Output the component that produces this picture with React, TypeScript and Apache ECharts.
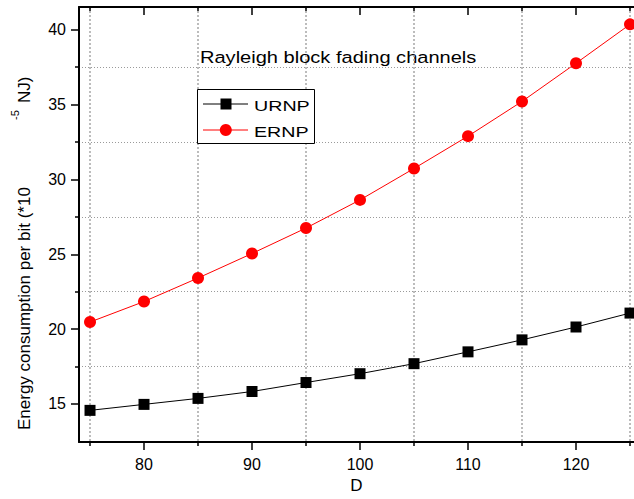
import React, { useEffect, useRef } from "react";
import * as echarts from "echarts";

// Distance D
const D = [75, 80, 85, 90, 95, 100, 105, 110, 115, 120, 125];
// Energy consumption per bit (*10^-5 NJ)
const URNP = [14.57, 14.97, 15.37, 15.83, 16.43, 17.02, 17.69, 18.48, 19.28, 20.14, 21.07];
const ERNP = [20.47, 21.84, 23.41, 25.05, 26.75, 28.63, 30.73, 32.89, 35.21, 37.76, 40.36];

const X_MAJOR = [80, 90, 100, 110, 120];
const X_MINOR = [75, 85, 95, 105, 115, 125];
const Y_MAJOR = [15, 20, 25, 30, 35, 40];
const Y_MINOR = [17.5, 22.5, 27.5, 32.5, 37.5];

const SERIES_NAMES = ["URNP", "ERNP"];
const SERIES_COLORS = ["#000000", "#ff0000"];

const FONT = "'Liberation Sans', Arial, sans-serif";

const pairs = (ys: number[]) => D.map((d, i) => [d, ys[i]]);

// dotted grid styles
const hGridLine = () => ({
  show: true,
  showMinLine: true,
  showMaxLine: true,
  lineStyle: { color: "#9a9a9a", type: [1, 2], width: 1 },
});
const vGridLine = () => ({
  show: true,
  showMinLine: true,
  showMaxLine: true,
  lineStyle: { color: "#a6a6a6", type: [2, 2], width: 1.5 },
});

export default function App() {
  const ref = useRef<HTMLDivElement>(null);

  useEffect(() => {
    if (!ref.current) return;
    const chart = echarts.init(ref.current, null, { renderer: "svg" });

    const black = "#000";
    const baseX = { type: "value", min: 73.98, max: 125.37, gridIndex: 0 };
    const baseY = { type: "value", min: 12.45, max: 41.52, gridIndex: 0 };

    // legend box drawn as graphic so the stretched lettering can be reproduced
    const legendX = 197;
    const legendY = 89;
    const rowY = [104, 130];
    const legendGraphic: any[] = [
      {
        type: "rect",
        shape: { x: legendX + 0.5, y: legendY + 0.5, width: 117, height: 54 },
        style: { fill: "#fff", stroke: black, lineWidth: 1 },
        z: 10,
      },
    ];
    SERIES_NAMES.forEach((name, i) => {
      const y = rowY[i];
      const color = SERIES_COLORS[i];
      legendGraphic.push({
        type: "line",
        shape: { x1: 203, y1: y, x2: 248, y2: y },
        style: { stroke: color, lineWidth: 1 },
        z: 11,
      });
      legendGraphic.push(
        i === 0
          ? { type: "rect", shape: { x: 220.5, y: y - 5.5, width: 11, height: 11 }, style: { fill: color }, z: 12 }
          : { type: "circle", shape: { cx: 225.8, cy: y, r: 6 }, style: { fill: color }, z: 12 }
      );
      legendGraphic.push({
        type: "text",
        x: 254,
        y: y + 2,
        scaleX: 1.27,
        style: {
          text: name,
          fontSize: 15.5,
          fontFamily: FONT,
          fill: black,
          align: "left",
          verticalAlign: "middle",
        },
        z: 12,
      });
    });

    chart.setOption({
      animation: false,
      textStyle: { fontFamily: FONT },
      grid: { left: 79, right: 0, top: 7, bottom: 53, containLabel: false },
      xAxis: [
        {
          ...baseX,
          position: "bottom",
          axisLine: { show: true, onZero: false, lineStyle: { color: black, width: 2 } },
          axisTick: { show: true, customValues: X_MINOR, length: 4, lineStyle: { color: black, width: 1.5 } },
          axisLabel: { show: false },
          splitLine: vGridLine(),
        },
        {
          ...baseX,
          position: "bottom",
          name: "D",
          nameLocation: "middle",
          nameGap: 32,
          nameTextStyle: { fontSize: 17, color: black, fontFamily: FONT },
          axisLine: { show: false, onZero: false },
          axisTick: { show: true, customValues: X_MAJOR, length: 8, lineStyle: { color: black, width: 1.5 } },
          axisLabel: { show: true, customValues: X_MAJOR, fontSize: 16, color: black, margin: 14, fontFamily: FONT },
          splitLine: { show: false },
        },
        {
          ...baseX,
          position: "top",
          axisLine: { show: true, onZero: false, lineStyle: { color: black, width: 2 } },
          axisTick: { show: true, inside: true, customValues: X_MINOR, length: 4, lineStyle: { color: black, width: 1.5 } },
          axisLabel: { show: false },
          splitLine: { show: false },
        },
        {
          ...baseX,
          position: "top",
          axisLine: { show: false, onZero: false },
          axisTick: { show: true, inside: true, customValues: X_MAJOR, length: 8, lineStyle: { color: black, width: 1.5 } },
          axisLabel: { show: false },
          splitLine: { show: false },
        },
      ],
      yAxis: [
        {
          ...baseY,
          position: "left",
          axisLine: { show: true, onZero: false, lineStyle: { color: black, width: 2 } },
          axisTick: { show: true, customValues: Y_MINOR, length: 4, lineStyle: { color: black, width: 1.5 } },
          axisLabel: { show: false },
          splitLine: hGridLine(),
        },
        {
          ...baseY,
          position: "left",
          axisLine: { show: false, onZero: false },
          axisTick: { show: true, customValues: Y_MAJOR, length: 8, lineStyle: { color: black, width: 1.5 } },
          axisLabel: { show: true, customValues: Y_MAJOR, fontSize: 16, color: black, margin: 13, fontFamily: FONT },
          splitLine: { show: false },
        },
      ],
      graphic: [
        {
          type: "text",
          x: 200,
          y: 57.5,
          scaleX: 1.18,
          style: {
            text: "Rayleigh block fading channels",
            fontSize: 17,
            fontFamily: FONT,
            fill: black,
            align: "left",
            verticalAlign: "middle",
          },
        },
        {
          type: "text",
          x: 24,
          y: 430,
          rotation: Math.PI / 2,
          style: {
            text: "Energy consumption per bit (*10",
            fontSize: 17,
            fontFamily: FONT,
            fill: black,
            align: "left",
            verticalAlign: "middle",
          },
        },
        {
          type: "text",
          x: 15,
          y: 115,
          rotation: Math.PI / 2,
          style: {
            text: "-5",
            fontSize: 11,
            fontFamily: FONT,
            fill: black,
            align: "center",
            verticalAlign: "middle",
          },
        },
        {
          type: "text",
          x: 24,
          y: 103,
          rotation: Math.PI / 2,
          style: {
            text: "NJ)",
            fontSize: 17,
            fontFamily: FONT,
            fill: black,
            align: "left",
            verticalAlign: "middle",
          },
        },
        ...legendGraphic,
      ],
      series: [
        {
          type: "line",
          name: SERIES_NAMES[0],
          xAxisIndex: 0,
          yAxisIndex: 0,
          data: pairs(URNP),
          symbol: "rect",
          symbolSize: 11,
          itemStyle: { color: SERIES_COLORS[0] },
          lineStyle: { color: SERIES_COLORS[0], width: 1 },
          z: 3,
        },
        {
          type: "line",
          name: SERIES_NAMES[1],
          xAxisIndex: 0,
          yAxisIndex: 0,
          data: pairs(ERNP),
          symbol: "circle",
          symbolSize: 12,
          itemStyle: { color: SERIES_COLORS[1] },
          lineStyle: { color: SERIES_COLORS[1], width: 1 },
          z: 3,
        },
      ],
    });

    return () => chart.dispose();
  }, []);

  return <div ref={ref} style={{ width: 634, height: 499, position: "absolute", left: 0, top: 0, background: "#fff" }} />;
}
